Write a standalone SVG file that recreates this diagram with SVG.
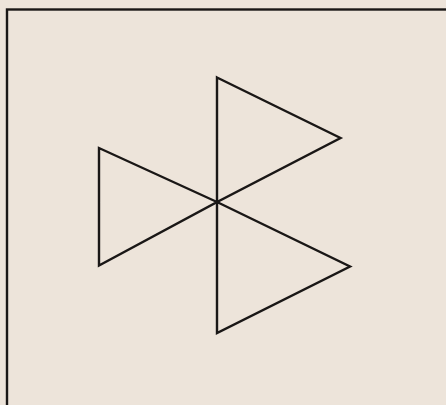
<svg xmlns="http://www.w3.org/2000/svg" width="446" height="405" viewBox="0 0 446 405">
<style>
.edge{fill:none;stroke:#1a1716;stroke-width:2.4;stroke-linejoin:miter}
.frame{fill:none;stroke:#1a1716;stroke-width:2.4}
</style>
<rect x="0" y="0" width="446" height="405" fill="#ede4da"/>
<g id="frame"><rect class="frame" x="7" y="9.5" width="460" height="420"/></g>
<g id="triangle-top"><polygon class="edge" points="217,77.5 340.5,138 217,202"/></g>
<g id="triangle-bottom"><polygon class="edge" points="217,202 350,266.5 217,333"/></g>
<g id="triangle-left"><polygon class="edge" points="217,202 99,148 99,265.5"/></g>
</svg>
